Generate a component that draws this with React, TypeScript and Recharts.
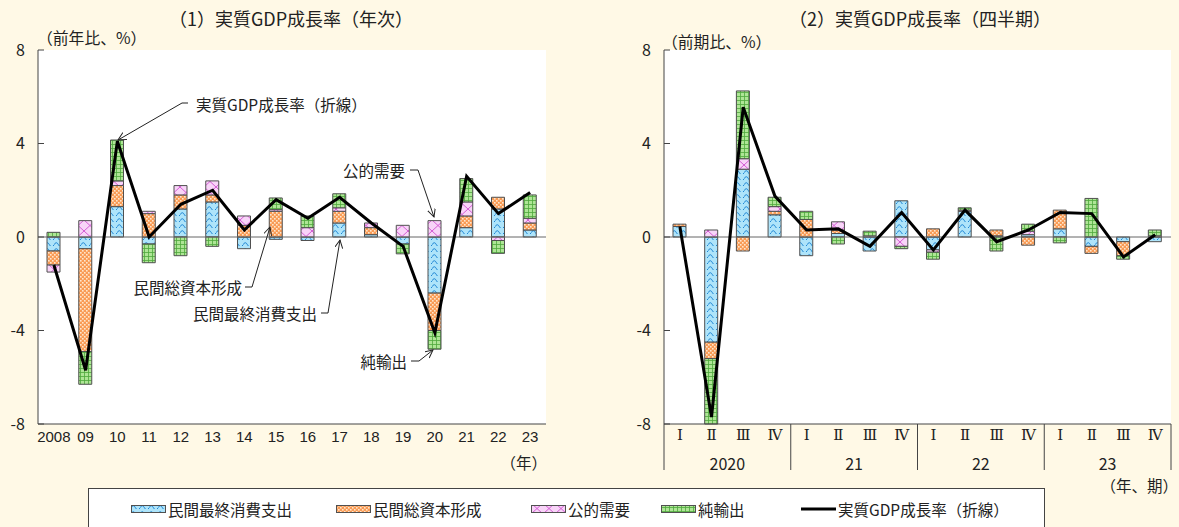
import React from 'react';
import { ComposedChart, Bar, Line, XAxis, YAxis, ReferenceLine } from 'recharts';

// annual (前年比)
const years = ['2008', '09', '10', '11', '12', '13', '14', '15', '16', '17', '18', '19', '20', '21', '22', '23'];
const annConsumption = [-0.6, -0.5, 1.3, -0.3, 1.2, 1.5, -0.5, -0.1, -0.15, 0.6, 0.1, -0.3, -2.4, 0.4, 1.2, 0.3];
const annInvestment = [-0.6, -4.4, 0.9, 1.0, 0.6, 0.3, 0.5, 1.1, 0, 0.5, 0.3, 0, -1.6, 0.5, 0.5, 0.3];
const annPublic = [-0.3, 0.7, 0.2, 0.1, 0.4, 0.6, 0.4, 0.07, 0.4, 0.15, 0.2, 0.5, 0.7, 0.6, -0.15, 0.2];
const annNetExports = [0.2, -1.4, 1.75, -0.8, -0.8, -0.4, 0, 0.5, 0.5, 0.6, 0, -0.42, -0.8, 1.0, -0.55, 1.0];
const annGdp = [-1.2, -5.7, 4.1, 0.0, 1.4, 2.0, 0.3, 1.6, 0.8, 1.7, 0.6, -0.4, -4.1, 2.6, 1.0, 1.9];

// quarterly (前期比)
const quarters = ['Ⅰ', 'Ⅱ', 'Ⅲ', 'Ⅳ', 'Ⅰ', 'Ⅱ', 'Ⅲ', 'Ⅳ', 'Ⅰ', 'Ⅱ', 'Ⅲ', 'Ⅳ', 'Ⅰ', 'Ⅱ', 'Ⅲ', 'Ⅳ'];
const quarterYears = ['2020', '21', '22', '23'];
const qConsumption = [0.45, -4.5, 2.9, 0.95, -0.8, 0.15, -0.6, 1.55, -0.55, 1.1, 0.05, 0.1, 0.35, -0.4, -0.2, -0.2];
const qInvestment = [0.1, -0.7, -0.6, 0.15, 0.75, 0.15, 0, 0, 0.35, 0, 0.25, -0.35, 0.8, -0.3, -0.6, 0.05];
const qPublic = [0, 0.3, 0.45, 0.2, 0, 0.35, 0.05, -0.4, -0.1, 0.05, 0, 0.15, 0, 0, 0, 0];
const qNetExports = [0, -2.8, 2.9, 0.4, 0.35, -0.3, 0.2, -0.1, -0.3, 0.1, -0.6, 0.3, -0.25, 1.65, -0.15, 0.25];
const qGdp = [0.45, -7.7, 5.55, 1.75, 0.3, 0.35, -0.4, 1.05, -0.55, 1.15, -0.2, 0.3, 1.05, 1.0, -0.85, 0.1];

const yTicks = [-8, -4, 0, 4, 8];
// year labels sit mid-group, separators on group edges
const yearAxisTicks = [0, 2, 4, 6, 8, 10, 12, 14, 16];

const annualData = years.map((y, i) => ({
  cat: y,
  c: annConsumption[i],
  inv: annInvestment[i],
  g: annPublic[i],
  nx: annNetExports[i],
  gdp: annGdp[i],
}));

const quarterData = quarters.map((q, i) => ({
  cat: q,
  pos: i + 0.5,
  c: qConsumption[i],
  inv: qInvestment[i],
  g: qPublic[i],
  nx: qNetExports[i],
  gdp: qGdp[i],
}));

const FONT = '"Noto Sans CJK JP", "Noto Sans", sans-serif';
const INK = '#222';
const BORDER = '#444';
const BAR_STROKE = '#505050';

const series = [
  { key: 'c', name: '民間最終消費支出', fill: 'url(#pC)' },
  { key: 'inv', name: '民間総資本形成', fill: 'url(#pI)' },
  { key: 'g', name: '公的需要', fill: 'url(#pG)' },
  { key: 'nx', name: '純輸出', fill: 'url(#pN)' },
];

function YTick(props: any) {
  const { x, y, payload } = props;
  return (
    <g>
      <line x1={x} x2={x + 6} y1={y} y2={y} stroke={BORDER} />
      <text x={x - 13} y={y} dy="0.36em" textAnchor="end" fontSize={16} fontFamily={FONT} fill={INK}>
        {payload.value}
      </text>
    </g>
  );
}

function YearTick(props: any) {
  const { x, y, payload } = props;
  const v = payload.value as number;
  if (v % 4 === 0) {
    return <line x1={x} x2={x} y1={y - 22} y2={y + 24} stroke={BORDER} />;
  }
  return (
    <text x={x} y={y + 17} dominantBaseline="central" textAnchor="middle" fontSize={16} fontFamily={FONT} fill={INK}>
      {quarterYears[(v - 2) / 4]}
    </text>
  );
}

function Patterns() {
  return (
    <svg width={0} height={0} style={{ position: 'absolute' }}>
      <defs>
        <pattern id="pC" width="9" height="6" patternUnits="userSpaceOnUse">
          <rect width="9" height="6" fill="#AEE4FA" />
          <path d="M0 4.8 Q2.25 0.6 4.5 4.8 T9 4.8" fill="none" stroke="#1E86D4" strokeWidth="1" />
        </pattern>
        <pattern id="pI" width="4" height="4" patternUnits="userSpaceOnUse">
          <rect width="4" height="4" fill="#F99B55" />
          <rect x="0" y="0" width="1.6" height="1.6" fill="#FFE6CC" />
          <rect x="2" y="2" width="1.6" height="1.6" fill="#FFE6CC" />
        </pattern>
        <pattern id="pG" width="12" height="11" patternUnits="userSpaceOnUse">
          <rect width="12" height="11" fill="#F8D4F8" />
          <path d="M0 0 L12 11 M12 0 L0 11" stroke="#D45CD4" strokeWidth="1" />
        </pattern>
        <pattern id="pN" width="4" height="4" patternUnits="userSpaceOnUse">
          <rect width="4" height="4" fill="#AEE596" />
          <path d="M0 0.5 H4 M0.5 0 V4" stroke="#4FA83C" strokeWidth="0.8" />
        </pattern>
        <marker id="arr" markerWidth="10" markerHeight="10" refX="8" refY="4" orient="auto" markerUnits="userSpaceOnUse">
          <path d="M0 0 L8 4 L0 8" fill="none" stroke={INK} strokeWidth="1" />
        </marker>
      </defs>
    </svg>
  );
}

function Bars() {
  return series.map((s) => (
    <Bar
      key={s.key}
      dataKey={s.key}
      stackId="a"
      fill={s.fill}
      stroke={BAR_STROKE}
      strokeWidth={1}
      barSize={13}
      isAnimationActive={false}
    />
  ));
}

function AnnualChart() {
  return (
    <ComposedChart
      width={560}
      height={470}
      data={annualData}
      stackOffset="sign"
      margin={{ top: 50, right: 14, bottom: 16, left: 0 }}
      style={{ position: 'absolute', left: 0, top: 0 }}
    >
      <XAxis xAxisId="top" orientation="top" dataKey="cat" height={0} tick={false} tickLine={false} axisLine={{ stroke: BORDER }} />
      <XAxis
        dataKey="cat"
        height={30}
        tickLine={false}
        tickSize={0}
        tickMargin={7}
        interval={0}
        axisLine={{ stroke: BORDER }}
        tick={{ fill: INK, fontSize: 15, fontFamily: '"Liberation Sans Narrow", sans-serif' }}
      />
      <YAxis
        width={38}
        domain={[-8, 8]}
        ticks={yTicks}
        interval={0}
        tickSize={0}
        tickMargin={0}
        tickLine={false}
        axisLine={{ stroke: BORDER }}
        tick={<YTick />}
      />
      <YAxis yAxisId="r" orientation="right" width={0} domain={[-8, 8]} tick={false} tickLine={false} axisLine={{ stroke: BORDER }} />
      {Bars()}
      <ReferenceLine y={0} stroke="#666" strokeWidth={1} />
      <Line dataKey="gdp" type="linear" stroke="#000" strokeWidth={3} dot={false} isAnimationActive={false} />
    </ComposedChart>
  );
}

function QuarterChart() {
  return (
    <ComposedChart
      width={579}
      height={484}
      data={quarterData}
      stackOffset="sign"
      margin={{ top: 50, right: 8, bottom: 14, left: 0 }}
      style={{ position: 'absolute', left: 600, top: 0 }}
    >
      <XAxis xAxisId="top" orientation="top" dataKey="cat" height={0} tick={false} tickLine={false} axisLine={{ stroke: BORDER }} />
      <XAxis
        dataKey="cat"
        height={22}
        tickLine={false}
        tickSize={0}
        tickMargin={5}
        interval={0}
        axisLine={{ stroke: BORDER }}
        tick={{ fill: INK, fontSize: 15, fontFamily: '"DejaVu Serif", serif' }}
      />
      <XAxis
        xAxisId="yr"
        type="number"
        dataKey="pos"
        domain={[0, 16]}
        ticks={yearAxisTicks}
        interval={0}
        height={24}
        tickSize={0}
        tickMargin={0}
        tickLine={false}
        axisLine={false}
        tick={<YearTick />}
      />
      <YAxis
        width={64}
        domain={[-8, 8]}
        ticks={yTicks}
        interval={0}
        tickSize={0}
        tickMargin={0}
        tickLine={false}
        axisLine={{ stroke: BORDER }}
        tick={<YTick />}
      />
      <YAxis yAxisId="r" orientation="right" width={0} domain={[-8, 8]} tick={false} tickLine={false} axisLine={{ stroke: BORDER }} />
      {Bars()}
      <ReferenceLine y={0} stroke="#666" strokeWidth={1} />
      <Line dataKey="gdp" type="linear" stroke="#000" strokeWidth={3} dot={false} isAnimationActive={false} />
    </ComposedChart>
  );
}

function Callout({ text, tx, ty, anchor = 'start', pts }: { text: string; tx: number; ty: number; anchor?: string; pts: string }) {
  return (
    <g>
      <text x={tx} y={ty} dominantBaseline="central" textAnchor={anchor} fontSize={15.5} fontFamily={FONT} fill={INK}>
        {text}
      </text>
      <polyline points={pts} fill="none" stroke={INK} strokeWidth={1} markerEnd="url(#arr)" />
    </g>
  );
}

function Overlay() {
  const t = { fontFamily: FONT, fill: INK };
  return (
    <svg width={1179} height={527} style={{ position: 'absolute', left: 0, top: 0, pointerEvents: 'none' }}>
      <text x={291} y={18} textAnchor="middle" dominantBaseline="central" fontSize={18} {...t}>（1）実質GDP成長率（年次）</text>
      <text x={920} y={18} textAnchor="middle" dominantBaseline="central" fontSize={18} {...t}>（2）実質GDP成長率（四半期）</text>
      <text x={37} y={37} dominantBaseline="central" fontSize={15.8} {...t}>（前年比、%）</text>
      <text x={662} y={41} dominantBaseline="central" fontSize={15.8} {...t}>（前期比、%）</text>
      <text x={547} y={462} textAnchor="end" dominantBaseline="central" fontSize={15.5} {...t}>（年）</text>
      <text x={1178} y={485} textAnchor="end" dominantBaseline="central" fontSize={15.5} {...t}>（年、期）</text>
      <Callout text="実質GDP成長率（折線）" tx={196} ty={104} pts="188,103 182,103 118,140" />
      <Callout text="公的需要" tx={405} ty={170} anchor="end" pts="410,170 418,170 434,217" />
      <Callout text="民間総資本形成" tx={242} ty={287} anchor="end" pts="245,287 252,287 270,227" />
      <Callout text="民間最終消費支出" tx={317} ty={313} anchor="end" pts="321,313 328,313 340,240" />
      <Callout text="純輸出" tx={407} ty={361} anchor="end" pts="411,361 419,361 433,350" />
    </svg>
  );
}

function LegendBox() {
  const items = [
    ...series.map((s) => ({ name: s.name, fill: s.fill, line: false })),
    { name: '実質GDP成長率（折線）', fill: '', line: true },
  ];
  const lefts = [42, 247, 442, 572, 712];
  return (
    <div
      style={{
        position: 'absolute',
        left: 88,
        top: 488,
        width: 957,
        height: 45,
        border: `1px solid ${BORDER}`,
        background: '#fff',
        boxSizing: 'border-box',
      }}
    >
      {items.map((it, i) => (
        <div
          key={it.name}
          style={{ position: 'absolute', left: lefts[i], top: 9, display: 'flex', alignItems: 'center', fontFamily: FONT, fontSize: 15.5, color: INK, whiteSpace: 'nowrap' }}
        >
          <svg width={35} height={12} style={{ marginRight: 2 }}>
            {it.line ? (
              <line x1={0} x2={35} y1={6} y2={6} stroke="#000" strokeWidth={3} />
            ) : (
              <rect x={0.5} y={2.5} width={34} height={7} fill={it.fill} stroke={BAR_STROKE} strokeWidth={1} />
            )}
          </svg>
          <span>{it.name}</span>
        </div>
      ))}
    </div>
  );
}

export default function App() {
  return (
    <div style={{ position: 'absolute', left: 0, top: 0, width: 1179, height: 527, background: '#FFF9E6', overflow: 'hidden' }}>
      <Patterns />
      <div style={{ position: 'absolute', left: 38, top: 50, width: 508, height: 374, background: '#fff' }} />
      <div style={{ position: 'absolute', left: 664, top: 50, width: 507, height: 374, background: '#fff' }} />
      <AnnualChart />
      <QuarterChart />
      <Overlay />
      <LegendBox />
    </div>
  );
}
